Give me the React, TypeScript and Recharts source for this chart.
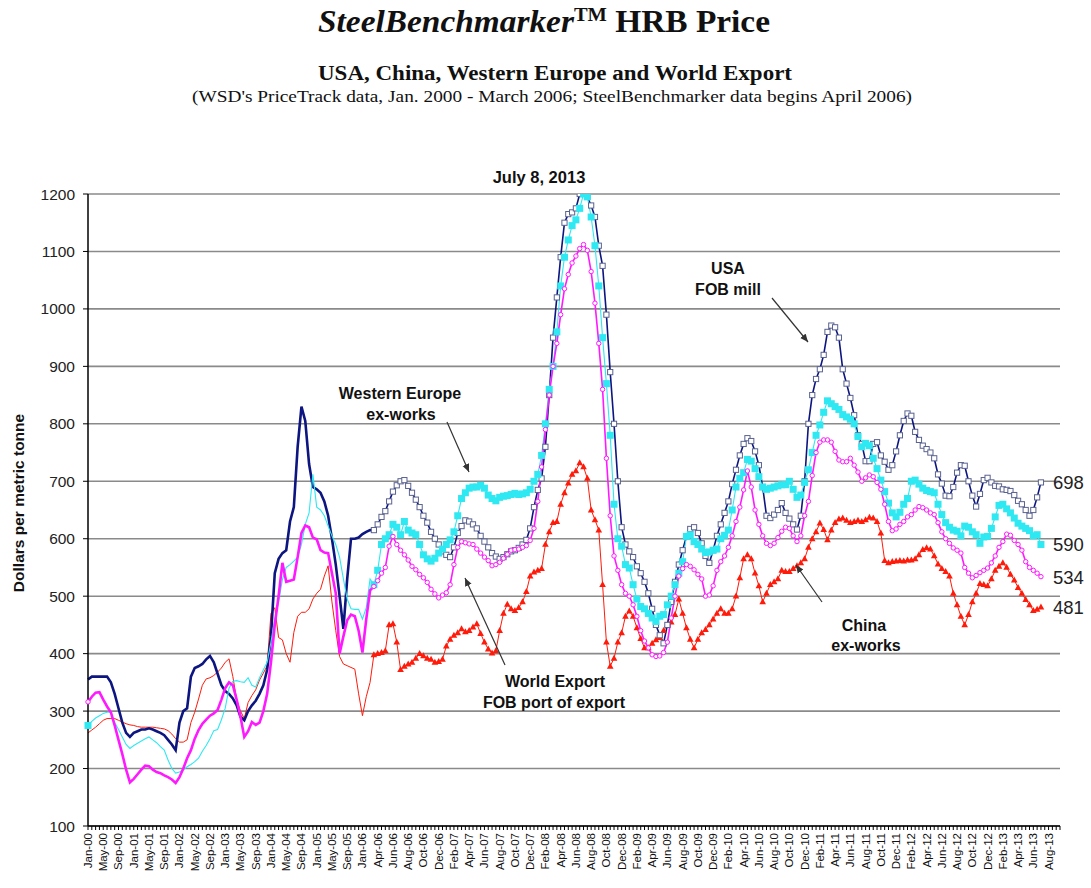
import { LineChart, Line, XAxis, YAxis, CartesianGrid, LabelList } from "recharts";

// WSD PriceTrack monthly data, Jan-00 .. Mar-06 (75 points)
const usaPre = [355,360,360,360,360,360,350,330,305,280,262,255,262,265,268,268,270,268,265,262,258,250,242,232,280,300,305,360,375,378,382,390,396,385,365,345,335,330,322,310,290,284,300,310,318,330,345,372,430,540,565,575,580,630,655,760,830,805,730,690,686,680,665,640,600,555,500,443,530,600,600,602,608,612,615];
const wEuropePre = [275,282,288,292,296,298,298,280,268,255,242,235,240,244,248,252,255,250,245,238,232,215,200,192,194,198,203,207,212,218,230,240,252,266,268,285,305,340,352,353,351,350,358,345,342,358,372,385,420,460,490,529,550,555,561,568,590,625,645,712,655,650,640,622,605,590,568,530,495,478,477,477,460,480,530];
const worldPre = [316,325,332,333,320,308,298,275,250,225,198,176,182,190,198,205,204,198,194,192,188,185,181,175,185,200,218,232,252,267,278,285,292,296,302,320,340,350,345,320,290,255,265,281,276,280,300,330,385,450,500,558,525,527,529,568,610,623,620,602,599,580,576,575,540,505,400,430,458,468,465,440,402,460,510];
const chinaPre = [262,267,272,278,284,287,287,287,284,281,278,276,275,273,272,272,272,272,271,270,269,266,260,252,246,246,250,280,298,321,345,356,358,362,368,375,385,391,360,320,300,287,315,327,337,354,366,379,470,480,428,424,400,385,437,465,472,472,478,495,505,512,535,553,490,440,395,382,379,376,373,330,292,325,350];

// SteelBenchmarker twice-monthly data, Apr-06 .. Jul-13 (176 points)
const usaPost = [615,625,638,648,665,682,693,700,702,692,680,668,655,640,628,612,600,590,578,572,568,585,610,622,632,630,625,618,605,595,585,575,569,565,568,573,578,580,584,590,598,618,655,685,705,760,850,950,1020,1090,1150,1165,1168,1175,1200,1205,1195,1180,1160,1110,1075,990,890,800,700,620,590,578,568,552,540,525,505,478,450,432,418,450,490,525,555,580,604,617,620,610,592,570,558,580,605,625,645,665,695,720,745,765,775,770,752,728,690,640,636,642,650,662,645,635,625,616,640,700,800,850,878,895,920,960,971,968,950,895,870,845,815,780,765,735,735,765,768,745,734,720,728,752,780,805,818,814,786,772,762,756,750,740,712,696,675,674,690,715,728,727,700,675,656,678,702,706,698,692,691,686,685,683,676,666,660,650,640,650,672,698];
const wEuropePost = [520,545,590,600,607,625,620,607,630,615,610,607,590,572,565,561,566,575,582,590,598,612,640,670,680,688,690,690,693,688,676,670,666,672,674,675,677,679,677,678,680,686,700,712,745,800,860,900,960,1040,1090,1120,1145,1155,1175,1200,1195,1160,1110,1040,950,870,780,660,600,587,555,549,520,495,482,478,470,462,456,465,468,485,500,520,540,560,604,607,595,590,582,576,577,580,582,600,606,615,650,690,705,715,738,735,722,708,690,686,688,690,692,694,694,700,686,672,676,698,720,750,780,798,820,840,835,830,825,816,812,808,800,778,760,766,762,740,722,702,682,662,645,638,646,660,670,700,702,695,688,684,682,680,660,642,628,620,615,613,605,622,620,612,607,592,603,604,618,638,658,660,652,645,636,627,622,618,614,605,607,590];
const worldPost = [517,527,540,550,587,604,590,580,572,563,552,546,538,532,524,512,504,497,502,506,520,555,585,595,593,591,590,582,575,568,562,553,555,559,566,573,580,581,582,585,588,597,618,665,725,790,850,900,940,990,1035,1060,1080,1092,1105,1112,1102,1065,1010,940,860,740,640,570,545,520,505,500,485,465,440,422,410,398,395,396,402,420,462,500,535,548,555,552,546,538,530,500,502,518,545,560,570,585,605,630,655,685,718,690,650,625,605,592,588,592,602,613,620,618,605,595,605,640,665,710,750,768,772,772,768,752,737,734,734,740,728,716,700,706,711,708,698,686,660,630,614,617,625,630,638,642,650,656,654,650,645,642,628,612,600,592,584,580,575,550,540,532,536,541,545,549,558,570,585,595,608,606,597,590,580,560,550,545,540,534];
const chinaPost = [398,400,402,405,450,452,420,372,378,382,385,392,400,396,392,390,385,386,390,413,425,432,436,443,438,440,446,452,435,420,408,401,405,440,470,486,478,475,480,490,508,535,542,545,548,590,612,628,630,660,680,697,712,718,732,725,705,650,633,615,520,420,378,392,420,436,465,474,465,445,426,410,410,418,424,428,440,450,455,468,495,470,445,425,410,425,436,442,450,460,470,478,470,470,478,500,532,565,572,565,540,518,490,505,520,525,530,545,543,543,548,553,558,565,585,600,612,627,616,598,615,628,634,636,632,628,630,632,630,633,637,636,630,610,562,558,560,561,562,561,563,563,565,572,581,584,582,570,556,548,543,535,505,485,465,450,468,490,505,522,520,518,530,545,552,558,550,538,528,515,505,494,485,475,477,481];

const monthNames = ["Jan","Feb","Mar","Apr","May","Jun","Jul","Aug","Sep","Oct","Nov","Dec"];
const yTicks = [100,200,300,400,500,600,700,800,900,1000,1100,1200];
const emptySlots = 5;

const PRE = usaPre.length;
const POST = usaPost.length;
const TOTAL = PRE + POST + emptySlots;
const LAST = PRE + POST - 1;

function monthLabel(m: number) {
  const y = 2000 + Math.floor(m / 12);
  return `${monthNames[m % 12]}-${String(y % 100).padStart(2, "0")}`;
}

const catLabels: string[] = [];
for (let i = 0; i < TOTAL; i++) {
  if (i < PRE) catLabels.push(monthLabel(i));
  else catLabels.push(monthLabel(75 + Math.floor((i - PRE) / 2)));
}

const pick = (pre: number[], post: number[], i: number, part: "pre" | "post") => {
  if (part === "pre") return i < PRE ? pre[i] : i === PRE ? post[0] : null;
  return i >= PRE && i - PRE < post.length ? post[i - PRE] : null;
};

const data = Array.from({ length: TOTAL }, (_, i) => ({
  idx: i,
  usaPre: pick(usaPre, usaPost, i, "pre"),
  usaPost: pick(usaPre, usaPost, i, "post"),
  wePre: pick(wEuropePre, wEuropePost, i, "pre"),
  wePost: pick(wEuropePre, wEuropePost, i, "post"),
  wxPre: pick(worldPre, worldPost, i, "pre"),
  wxPost: pick(worldPre, worldPost, i, "post"),
  cnPre: pick(chinaPre, chinaPost, i, "pre"),
  cnPost: pick(chinaPre, chinaPost, i, "post"),
}));

const NAVY = "#0c1580";
const CYAN = "#2ee8f2";
const MAGENTA = "#ff19ff";
const RED = "#ff1a0a";
const SANS = "'Liberation Sans', Arial, sans-serif";
const SERIF = "'Liberation Serif', 'Times New Roman', serif";

function bad(cy: any) {
  return cy == null || Number.isNaN(cy);
}

const usaDot = (p: any) =>
  bad(p.cy) ? <g key={`u${p.index}`} /> : (
    <rect key={`u${p.index}`} x={p.cx - 2.6} y={p.cy - 2.6} width={5.2} height={5.2} fill="#fff" stroke="#5a6290" strokeWidth={1} />
  );
const weDot = (p: any) =>
  bad(p.cy) ? <g key={`w${p.index}`} /> : (
    <rect key={`w${p.index}`} x={p.cx - 3.5} y={p.cy - 3.5} width={7} height={7} fill={CYAN} />
  );
const wxDot = (p: any) =>
  bad(p.cy) ? <g key={`x${p.index}`} /> : (
    <circle key={`x${p.index}`} cx={p.cx} cy={p.cy} r={2.2} fill="#fff" stroke={MAGENTA} strokeWidth={1} />
  );
const cnDot = (p: any) =>
  bad(p.cy) ? <g key={`c${p.index}`} /> : (
    <path key={`c${p.index}`} d={`M${p.cx},${p.cy - 3.6} L${p.cx + 3.3},${p.cy + 2.4} L${p.cx - 3.3},${p.cy + 2.4} Z`} fill={RED} />
  );
const firstOnly = (render: (p: any) => any) => (p: any) => (p.index === 0 ? render(p) : <g key={`f${p.index}`} />);

function EndLabel(props: any) {
  const { x, y, value, index } = props;
  if (index !== LAST || value == null) return null;
  return (
    <text x={x + 12} y={y + 7} fontSize={18.5} fontFamily={SANS} fill="#222">
      {value}
    </text>
  );
}

function XTick(props: any) {
  const { x, y, payload } = props;
  const i = payload.value;
  if (i % 4 !== 0 || !catLabels[i]) return <g />;
  const ty = y + 1;
  return (
    <text x={x} y={ty} transform={`rotate(-90 ${x} ${ty})`} textAnchor="end" dominantBaseline="central" fontSize={11.5} fontFamily={SANS} fill="#111">
      {catLabels[i]}
    </text>
  );
}

function Arrow({ x1, y1, x2, y2 }: { x1: number; y1: number; x2: number; y2: number }) {
  return <line x1={x1} y1={y1} x2={x2} y2={y2} stroke="#333" strokeWidth={1.2} markerEnd="url(#ah)" />;
}

export default function App() {
  return (
    <div style={{ position: "absolute", left: 0, top: 0, width: 1091, height: 888, background: "#fff" }}>
      <LineChart width={1091} height={888} data={data} margin={{ top: 194, right: 31, bottom: 2, left: 0 }}>
        <CartesianGrid vertical={false} stroke="#8a8a8a" strokeWidth={1.6} />
        <XAxis
          dataKey="idx"
          type="category"
          interval={0}
          height={60}
          tickSize={4}
          tickLine={{ stroke: "#000" }}
          axisLine={{ stroke: "#000", strokeWidth: 1.5 }}
          tick={(p: any) => <XTick {...p} />}
        />
        <YAxis
          width={88}
          domain={[100, 1200]}
          ticks={yTicks}
          type="number"
          allowDataOverflow
          tickSize={5}
          tickMargin={8}
          tickLine={{ stroke: "#000" }}
          axisLine={{ stroke: "#000", strokeWidth: 1.5 }}
          tick={{ fontSize: 15.5, fill: "#222", fontFamily: SANS }}
        />
        <Line dataKey="cnPre" type="linear" stroke={RED} strokeWidth={1} dot={false} activeDot={false} isAnimationActive={false} />
        <Line dataKey="cnPost" type="linear" stroke={RED} strokeWidth={1} dot={cnDot} activeDot={false} isAnimationActive={false}>
          <LabelList dataKey="cnPost" content={(p: any) => <EndLabel {...p} />} />
        </Line>
        <Line dataKey="usaPre" type="linear" stroke={NAVY} strokeWidth={2.6} dot={false} activeDot={false} isAnimationActive={false} />
        <Line dataKey="usaPost" type="linear" stroke={NAVY} strokeWidth={1.6} dot={usaDot} activeDot={false} isAnimationActive={false}>
          <LabelList dataKey="usaPost" content={(p: any) => <EndLabel {...p} />} />
        </Line>
        <Line dataKey="wePre" type="linear" stroke={CYAN} strokeWidth={1.1} dot={firstOnly(weDot)} activeDot={false} isAnimationActive={false} />
        <Line dataKey="wePost" type="linear" stroke={CYAN} strokeWidth={1.1} dot={weDot} activeDot={false} isAnimationActive={false}>
          <LabelList dataKey="wePost" content={(p: any) => <EndLabel {...p} />} />
        </Line>
        <Line dataKey="wxPre" type="linear" stroke={MAGENTA} strokeWidth={2.6} dot={firstOnly(wxDot)} activeDot={false} isAnimationActive={false} />
        <Line dataKey="wxPost" type="linear" stroke={MAGENTA} strokeWidth={1.6} dot={wxDot} activeDot={false} isAnimationActive={false}>
          <LabelList dataKey="wxPost" content={(p: any) => <EndLabel {...p} />} />
        </Line>
      </LineChart>

      <svg width={1091} height={888} style={{ position: "absolute", left: 0, top: 0, pointerEvents: "none" }}>
        <defs>
          <marker id="ah" markerWidth={9} markerHeight={8} refX={8} refY={4} orient="auto" markerUnits="userSpaceOnUse">
            <path d="M0,0.5 L8,4 L0,7.5 Z" fill="#333" />
          </marker>
        </defs>

        <text x={544} y={32} textAnchor="middle" fontFamily={SERIF} fontWeight="bold" fontSize={31} fill="#111" textLength={452} lengthAdjust="spacingAndGlyphs">
          <tspan fontStyle="italic">SteelBenchmarker</tspan>
          <tspan dy={-11} fontSize={19}>TM</tspan>
          <tspan dy={11}> HRB Price</tspan>
        </text>
        <text x={555} y={80} textAnchor="middle" fontFamily={SERIF} fontWeight="bold" fontSize={20} fill="#111" textLength={474} lengthAdjust="spacingAndGlyphs">
          USA, China,  Western Europe  and World  Export
        </text>
        <text x={552} y={102} textAnchor="middle" fontFamily={SERIF} fontSize={16} fill="#111" textLength={720} lengthAdjust="spacingAndGlyphs">
          (WSD's PriceTrack  data, Jan. 2000  - March 2006;  SteelBenchmarker  data begins April 2006)
        </text>

        <text transform="translate(24 503) rotate(-90)" textAnchor="middle" fontFamily={SANS} fontWeight="bold" fontSize={15.5} fill="#111">
          Dollars per metric tonne
        </text>

        <text x={539} y={183} textAnchor="middle" fontFamily={SANS} fontWeight="bold" fontSize={16.5} fill="#111">
          July 8, 2013
        </text>

        <g fontFamily={SANS} fontWeight="bold" fontSize={16} fill="#111" textAnchor="middle">
          <text x={400} y={399}>Western Europe</text>
          <text x={401} y={420}>ex-works</text>
          <text x={728} y={274}>USA</text>
          <text x={728} y={295}>FOB mill</text>
          <text x={555} y={687}>World Export</text>
          <text x={554} y={708}>FOB  port of export</text>
          <text x={864} y={631}>China</text>
          <text x={866} y={651}>ex-works</text>
        </g>

        <Arrow x1={447} y1={422} x2={469} y2={472} />
        <Arrow x1={772} y1={298} x2={808} y2={342} />
        <Arrow x1={505} y1={665} x2={465} y2={578} />
        <Arrow x1={822} y1={602} x2={796} y2={565} />
      </svg>
    </div>
  );
}
